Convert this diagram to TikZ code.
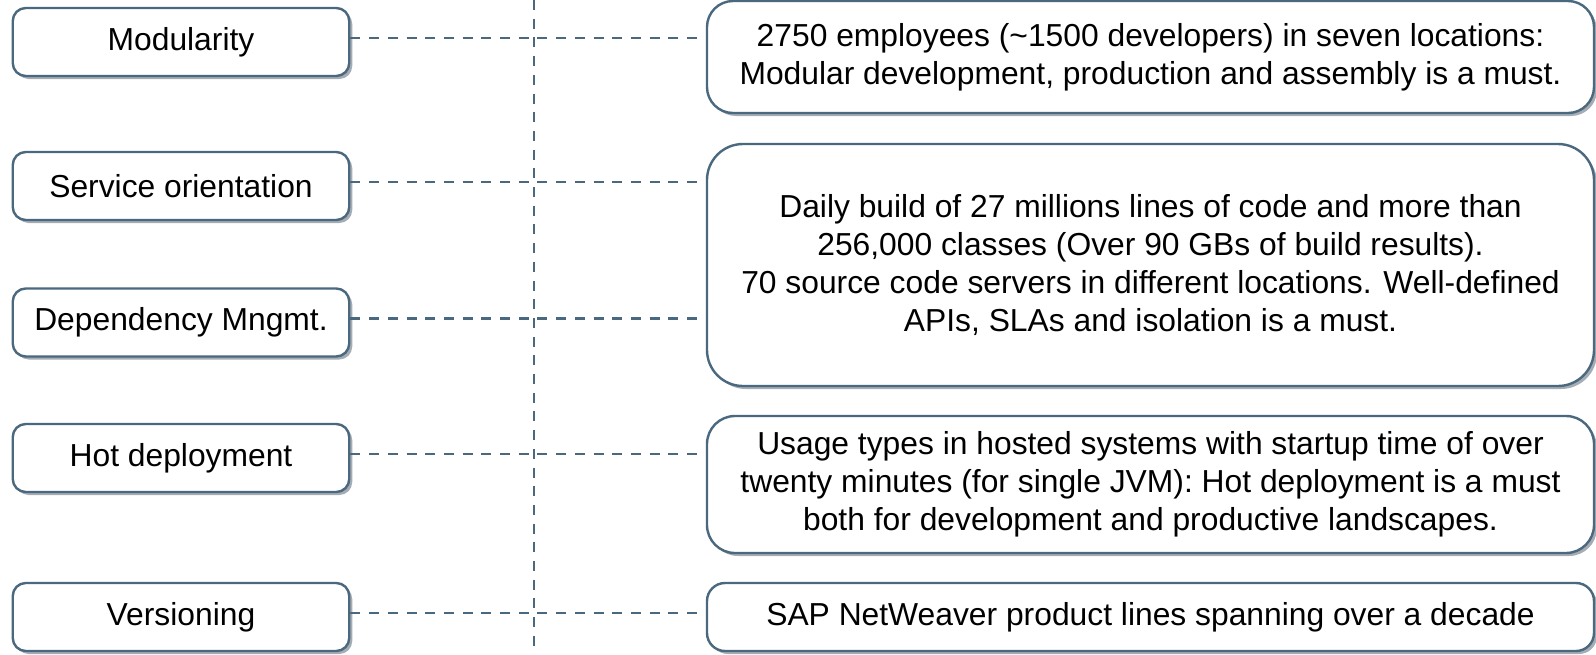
\documentclass[tikz,border=0pt]{standalone}
\usepackage{fontspec}
\setmainfont{Liberation Sans}
\usetikzlibrary{shadows}
\definecolor{edgec}{RGB}{74,104,126}
\definecolor{shadowc}{RGB}{165,172,180}
\tikzset{
  boxbase/.style={draw=edgec, line width=1.2pt, fill=white, align=center,
    font=\fontsize{15.9pt}{19pt}\selectfont, inner sep=0pt,
    drop shadow={shadow xshift=1.5pt, shadow yshift=-1.5pt, fill=shadowc, opacity=1}},
  leftbox/.style={boxbase, rounded corners=6.5pt, minimum width=168.25pt, minimum height=34pt},
  rightbox/.style={boxbase, minimum width=443.5pt},
  conn/.style={draw=edgec, line width=1.3pt, dash pattern=on 5pt off 4.35pt}
}
\begin{document}
\begin{tikzpicture}[x=0.5pt,y=-0.5pt]
\useasboundingbox (0,0) rectangle (1596,654);
\coordinate (vtop) at (534,0);
\coordinate (vbot) at (534,654);
\draw[conn] (vtop) -- (vbot);

\node[leftbox] (L1) at (181,42) {Modularity};
\node[leftbox] (L2) at (181,186) {Service orientation};
\node[leftbox] (L3) at (181,322.5) {Dependency Mngmt.};
\node[leftbox] (L4) at (181,458) {Hot deployment};
\node[leftbox] (L5) at (181,617) {Versioning};

\node[rightbox, rounded corners=13pt, minimum height=56pt] (R1) at (1150.5,57)
  {2750 employees (\textasciitilde 1500 developers) in seven locations:\\Modular development, production and assembly is a must.};
\node[rightbox, rounded corners=18pt, minimum height=121pt] (R2) at (1150.5,265)
  {Daily build of 27 millions lines of code and more than\\256,000 classes (Over 90 GBs of build results).\\70 source code servers in different locations. Well-defined\\APIs, SLAs and isolation is a must.};
\node[rightbox, rounded corners=14pt, minimum height=68.5pt] (R3) at (1150.5,484.5)
  {Usage types in hosted systems with startup time of over\\twenty minutes (for single JVM): Hot deployment is a must\\both for development and productive landscapes.};
\node[rightbox, rounded corners=9pt, minimum height=34pt] (R4) at (1150.5,617)
  {SAP NetWeaver product lines spanning over a decade};

\draw[conn] ([yshift=2pt]L1.east) -- ([yshift=2pt]L1.east -| R1.west);
\draw[conn] ([yshift=2pt]L2.east) -- ([yshift=2pt]L2.east -| R2.west);
\draw[conn] ([yshift=2pt]L3.east) -- ([yshift=2pt]L3.east -| R2.west);
\draw[conn] ([yshift=2pt]L4.east) -- ([yshift=2pt]L4.east -| R3.west);
\draw[conn] ([yshift=2pt]L5.east) -- ([yshift=2pt]L5.east -| R4.west);
\end{tikzpicture}
\end{document}
